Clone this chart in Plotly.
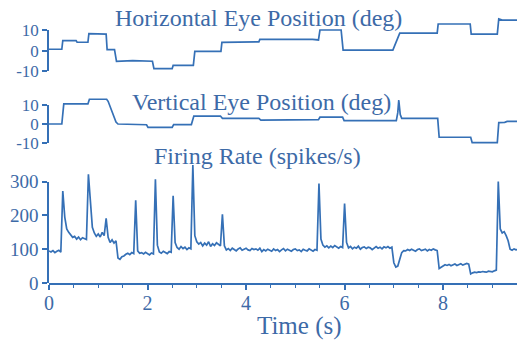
import plotly.graph_objects as go

# ---- data -------------------------------------------------------------
# Horizontal eye position: breakpoints (time in s, position in deg)
h_time = [0.00, 0.26, 0.28, 0.55, 0.57, 0.79, 0.81, 1.00, 1.16, 1.18, 1.33, 1.37,
          1.70, 2.10, 2.13, 2.50, 2.52, 2.93, 2.96, 3.49, 3.51, 4.26, 4.28, 5.35,
          5.47, 5.50, 5.93, 5.97, 6.98, 7.12, 7.88, 7.90, 8.55, 8.57, 9.10, 9.13,
          9.20, 9.50]
h_deg = [0.7, 0.7, 4.9, 4.9, 4.1, 4.1, 8.2, 8.2, 8.0, 0.5, 0.5, -5.1,
         -4.8, -5.1, -8.7, -8.7, -7.1, -7.1, -0.3, -0.3, 4.0, 4.3, 5.5, 5.5,
         5.2, 10.0, 10.0, 0.3, 0.3, 8.5, 8.5, 12.9, 12.9, 8.0, 8.0, 15.4,
         14.8, 14.8]

# Vertical eye position: breakpoints (time in s, position in deg)
v_time = [0.00, 0.26, 0.30, 0.79, 0.82, 1.17, 1.20, 1.36, 1.40, 1.98, 2.01, 2.50,
          2.53, 2.89, 2.94, 3.48, 3.52, 4.26, 4.30, 5.47, 5.50, 5.96, 5.99, 7.05,
          7.08, 7.10, 7.13, 7.16, 7.89, 7.92, 8.56, 8.59, 9.10, 9.13, 9.25, 9.30,
          9.50]
v_deg = [0.0, 0.0, 10.6, 10.6, 13.1, 13.1, 12.0, 1.0, 0.0, -0.4, -1.8, -1.8,
         -0.3, -0.3, 4.2, 4.2, 3.0, 3.0, 2.1, 2.3, 3.6, 3.6, 1.8, 1.8,
         6.0, 12.7, 5.0, 3.0, 3.0, -7.0, -7.0, -9.9, -9.9, 0.7, 0.9, 1.4,
         1.4]

# Firing rate (spikes/s), one sample every 40 ms starting at t = 0
fr_step = 0.04
fr_rate = [
    95, 92, 96, 90, 94, 97, 91,
    272, 195, 160, 150,
    142, 135, 138, 130, 136, 128, 134, 131, 129,
    322, 250, 165,
    148, 138, 145, 136, 150, 140,
    191, 135,
    120, 128, 118, 125,
    74, 70, 78, 80, 85, 88, 84, 90, 87,
    245, 95,
    88, 90, 86, 91, 87, 83, 89, 86,
    307, 112,
    92, 88, 94, 90, 87, 93, 91,
    258, 120,
    105, 100, 108, 102, 106, 99, 104, 101,
    349, 140, 122,
    115, 120, 110, 118, 112, 122, 108, 116, 111, 119, 113, 110,
    203, 110,
    98, 102, 96, 103, 99, 95, 101, 104, 97, 100, 103, 98, 96, 102, 99, 101, 97, 103,
    93, 99, 95, 100, 97, 94, 101, 96, 99, 93, 98, 102, 95, 100, 97, 94, 99, 101,
    96, 98, 93, 100, 97, 95, 101, 98, 94, 99, 97,
    294, 130,
    112, 106, 110, 104, 109, 105, 111, 107, 103, 108, 105,
    235, 120,
    104, 108, 101, 106, 103, 109, 100, 105, 107, 102, 106, 104, 99, 105, 108, 103,
    106, 101, 107, 104, 108, 103, 106,
    60, 47, 50, 72, 90, 96,
    95, 99, 96, 100, 97, 94, 99, 101, 96, 98, 100, 95, 99, 97, 101, 98, 96,
    43, 46,
    50, 54, 52, 55, 51, 53, 56, 52, 54, 57, 53, 55, 58, 56,
    27,
    30, 32, 31, 33, 32, 34, 33, 32, 35, 34, 33, 36, 38,
    300, 160, 148, 152, 140, 125, 100, 97, 101, 98, 100,
]
fr_time = [round(i * fr_step, 2) for i in range(len(fr_rate))]

x_ticks = [0, 2, 4, 6, 8]
eye_ticks = [-10, 0, 10]
eye_tick_text = ["-10", "0", "10"]
fr_ticks = [0, 100, 200, 300]

# ---- styling ----------------------------------------------------------
LINE = "#3570b6"
TEXT = "#3d6aa7"
FONT = "Liberation Serif"
W, H = 517, 345
ML, MB = 49, 62
PLOT_H = H - MB


def frac(py):
    """Paper fraction for a pixel row inside the plot area."""
    return (PLOT_H - py) / PLOT_H


def sub_domain(dom, rng, lo, hi):
    f = lambda v: dom[0] + (v - rng[0]) / (rng[1] - rng[0]) * (dom[1] - dom[0])
    return [f(lo), f(hi)]


h_dom, h_rng = [frac(80), frac(0)], [-14.15, 24.5]
v_dom, v_rng = [frac(160), frac(82)], [-19.05, 22.22]
f_dom, f_rng = [frac(PLOT_H), frac(160)], [0, 364]

fig = go.Figure()
line = dict(color=LINE, width=1.7)
fig.add_trace(go.Scatter(x=h_time, y=h_deg, mode="lines", line=line,
                         xaxis="x", yaxis="y", showlegend=False))
fig.add_trace(go.Scatter(x=v_time, y=v_deg, mode="lines", line=line,
                         xaxis="x", yaxis="y2", showlegend=False))
fig.add_trace(go.Scatter(x=fr_time, y=fr_rate, mode="lines", line=line,
                         xaxis="x", yaxis="y3", showlegend=False))
# placeholders so the scale axes get their own subplots
for ax in ("y4", "y5", "y6"):
    fig.add_trace(go.Scatter(x=[None], y=[None], xaxis="x", yaxis=ax,
                             showlegend=False, hoverinfo="skip"))

hidden = dict(visible=False, anchor="x", fixedrange=True)
scale = dict(anchor="x", side="left", showline=True, linecolor=LINE, linewidth=1.5,
             ticks="outside", ticklen=5, tickwidth=1.5, tickcolor=LINE,
             showgrid=False, zeroline=False, tickmode="array", automargin=False)

fig.update_layout(
    width=W, height=H,
    margin=dict(l=ML, r=0, t=0, b=MB, autoexpand=False),
    paper_bgcolor="white", plot_bgcolor="rgba(0,0,0,0)",
    font=dict(family=FONT, color=TEXT),
    xaxis=dict(range=[0, 9.50], anchor="y3", showline=True, linecolor=LINE,
               linewidth=1.5, ticks="outside", ticklen=5, tickwidth=1.5,
               tickcolor=LINE, tickmode="array", tickvals=x_ticks,
               tickfont=dict(size=20, color=TEXT), showgrid=False, zeroline=False,
               ticklabelstandoff=-4, automargin=False,
               minor=dict(tickmode="linear", tick0=0, dtick=0.5, ticks="outside",
                          ticklen=3, tickwidth=1.2, tickcolor=LINE, showgrid=False)),
    yaxis=dict(domain=h_dom, range=h_rng, **hidden),
    yaxis2=dict(domain=v_dom, range=v_rng, **hidden),
    yaxis3=dict(domain=f_dom, range=f_rng, **hidden),
    yaxis4=dict(domain=sub_domain(h_dom, h_rng, -10, 10), range=[-10, 10],
                tickvals=eye_ticks, ticktext=eye_tick_text,
                tickfont=dict(size=17, color=TEXT), **scale),
    yaxis5=dict(domain=sub_domain(v_dom, v_rng, -10, 10), range=[-10, 10],
                tickvals=eye_ticks, ticktext=eye_tick_text,
                tickfont=dict(size=17, color=TEXT), **scale),
    yaxis6=dict(domain=sub_domain(f_dom, f_rng, 0, 300), range=[0, 300],
                tickvals=fr_ticks, tickfont=dict(size=19, color=TEXT), **scale),
)

titles = [
    ("Horizontal Eye Position (deg)", 4.26, 18, 24),
    ("Vertical Eye Position (deg)", 4.31, 101.5, 24),
    ("Firing Rate (spikes/s)", 4.24, 156, 24),
    ("Time (s)", 5.08, 325.5, 25),
]
for text, xt, py, size in titles:
    fig.add_annotation(text=text, x=xt, xref="x", y=frac(py), yref="paper",
                       xanchor="center", yanchor="middle", showarrow=False,
                       font=dict(family=FONT, size=size, color=TEXT))

fig.write_html("out.html")
